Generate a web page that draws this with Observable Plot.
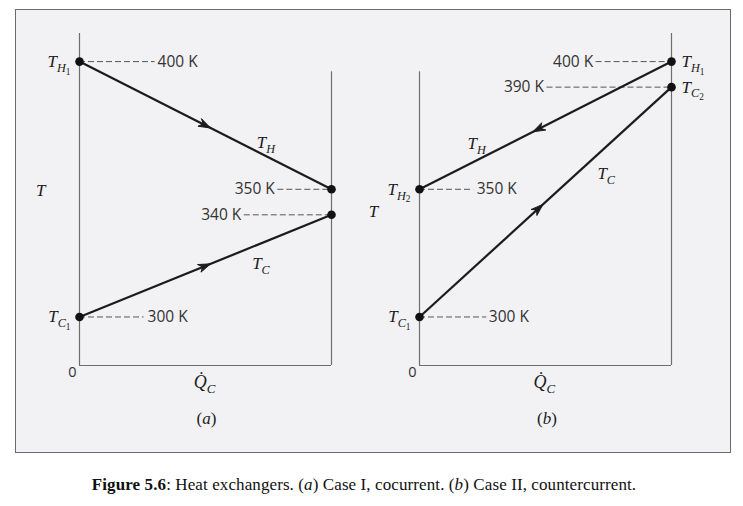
<!DOCTYPE html>
<html>
<head>
<meta charset="utf-8">
<script src="https://cdn.jsdelivr.net/npm/d3@7"></script>
<script src="https://cdn.jsdelivr.net/npm/@observablehq/plot@0.6"></script>
<style>
  body { margin: 0; background: #fff; }
  #wrap { position: relative; width: 743px; height: 506px; }
  #box { position: absolute; left: 15px; top: 9px; width: 716px; height: 444px; box-sizing: border-box; background: #f2f2f4; border: 1px solid #6a6a6a; }
  #chart { position: absolute; left: 0; top: 0; }
  #cap { position: absolute; left: 0; top: 475px; width: 728px; text-align: center; font: 17px "Liberation Serif", serif; color: #111; line-height: 19px; letter-spacing: 0.1px; }
</style>
</head>
<body>
<div id="wrap">
  <div id="box"></div>
  <div id="chart"></div>
  <div id="cap"><b>Figure 5.6</b>: Heat exchangers. (<i>a</i>) Case I, cocurrent. (<i>b</i>) Case II, countercurrent.</div>
</div>
<script>
// ---- data (temperatures in K, heat duty Q̇C as fraction 0..1) ----
const panels = ["a", "b"];

// state points
const pointPanel = ["a", "a", "a", "a", "b", "b", "b", "b"];
const pointQ     = [0, 1, 1, 0, 1, 1, 0, 0];
const pointT     = [400, 350, 340, 300, 400, 390, 350, 300];
const pointName  = ["T_H_1", "", "", "T_C_1", "T_H_1", "T_C_2", "T_H_2", "T_C_1"];
const pointSide  = ["left", "", "", "left", "right", "right", "left", "left"];

// streams (start -> end, flow direction)
const streamPanel = ["a", "a", "b", "b"];
const streamName  = ["T_H", "T_C", "T_H", "T_C"];
const streamQ1    = [0, 0, 1, 0];
const streamT1    = [400, 300, 400, 300];
const streamQ2    = [1, 1, 0, 1];
const streamT2    = [350, 340, 350, 390];
const arrowFrac   = [0.52, 0.52, 0.55, 0.49];   // arrowhead position along the stream
const streamLabelQ = [0.74, 0.72, 0.227, 0.741];
const streamLabelT = [368.3, 321, 367.9, 356.2];

// dashed leaders to temperature labels
const leaderPanel = ["a", "a", "a", "a", "b", "b", "b", "b"];
const leaderT     = [400, 350, 340, 300, 400, 390, 350, 300];
const leaderQ1    = [0, 0.787, 0.654, 0, 0.701, 0.506, 0, 0];
const leaderQ2    = [0.30, 1, 1, 0.256, 1, 1, 0.215, 0.267];
const leaderText  = ["400 K", "350 K", "340 K", "300 K", "400 K", "390 K", "350 K", "300 K"];
const leaderTextQ = [0.31, 0.775, 0.642, 0.27, 0.689, 0.494, 0.227, 0.275];
const leaderAnchor = ["start", "end", "end", "start", "end", "end", "start", "start"];

// axis frame (K)
const T_BOTTOM = 281, T_TOP = 411, T_SHORT = 396;
const frameLeftTop  = [T_TOP, T_SHORT];   // per panel
const frameRightTop = [T_SHORT, T_TOP];
const axisLabelQ = [-0.154, -0.183];
const axisLabelT = [349.5, 341.3];
const panelCaption = ["(a)", "(b)"];
const qLabelQ = [0.496, 0.495];
const capLabelQ = [0.504, 0.506];

// ---- build tables ----
const points = pointQ.map((q, i) => ({panel: pointPanel[i], q, t: pointT[i], name: pointName[i], side: pointSide[i]}));
const streams = streamQ1.map((q1, i) => ({
  panel: streamPanel[i], name: streamName[i], q1, t1: streamT1[i], q2: streamQ2[i], t2: streamT2[i],
  qa: q1 + (streamQ2[i] - q1) * arrowFrac[i], ta: streamT1[i] + (streamT2[i] - streamT1[i]) * arrowFrac[i],
  lq: streamLabelQ[i], lt: streamLabelT[i]
}));
const leaders = leaderT.map((t, i) => ({panel: leaderPanel[i], t, q1: leaderQ1[i], q2: leaderQ2[i], text: leaderText[i], tq: leaderTextQ[i], anchor: leaderAnchor[i]}));
const frames = panels.map((p, i) => ({panel: p, leftTop: frameLeftTop[i], rightTop: frameRightTop[i], lq: axisLabelQ[i], lt: axisLabelT[i], cap: panelCaption[i], qq: qLabelQ[i], cq: capLabelQ[i]}));

const serif = "Liberation Serif";
const sans = "Open Sans";
const ink = "#1c1c1c";

const chart = Plot.plot({
  width: 743, height: 460,
  marginTop: 33, marginBottom: 95, marginLeft: 79, marginRight: 71,
  style: {background: "transparent", overflow: "visible"},
  fx: {domain: panels, paddingInner: 0.2584, paddingOuter: 0, axis: null},
  x: {domain: [0, 1], axis: null},
  y: {domain: [T_BOTTOM, T_TOP], axis: null},
  marks: [
    // axis frame
    Plot.ruleX(frames, {fx: "panel", x: () => 0, y1: T_BOTTOM, y2: "leftTop", stroke: "#6e6e6e", strokeWidth: 1.2}),
    Plot.ruleX(frames, {fx: "panel", x: () => 1, y1: T_BOTTOM, y2: "rightTop", stroke: "#6e6e6e", strokeWidth: 1.2}),
    Plot.ruleY(frames, {fx: "panel", y: () => T_BOTTOM, x1: 0, x2: 1, stroke: "#6e6e6e", strokeWidth: 1.2}),
    // dashed leaders
    Plot.ruleY(leaders, {fx: "panel", y: "t", x1: "q1", x2: "q2", stroke: "#555", strokeWidth: 1, strokeDasharray: "6,3"}),
    // streams
    Plot.link(streams, {fx: "panel", x1: "q1", y1: "t1", x2: "q2", y2: "t2", stroke: ink, strokeWidth: 2.2}),
    Plot.arrow(streams, {fx: "panel", x1: "q1", y1: "t1", x2: "qa", y2: "ta", stroke: ink, strokeWidth: 1, headLength: 19, headAngle: 38}),
    Plot.dot(points, {fx: "panel", x: "q", y: "t", r: 4.3, fill: "#111", stroke: "none"}),
    // temperature labels
    Plot.text(leaders.filter(d => d.anchor === "start"), {fx: "panel", x: "tq", y: "t", text: "text", textAnchor: "start", fontFamily: sans, fontSize: 15.5, fill: "#333"}),
    Plot.text(leaders.filter(d => d.anchor === "end"), {fx: "panel", x: "tq", y: "t", text: "text", textAnchor: "end", fontFamily: sans, fontSize: 15.5, fill: "#333"}),
    // point names
    Plot.text(points.filter(d => d.side === "left"), {fx: "panel", x: "q", y: "t", text: "name", textAnchor: "end", dx: -9, fontFamily: serif, fontStyle: "italic", fontSize: 17, fill: ink}),
    Plot.text(points.filter(d => d.side === "right"), {fx: "panel", x: "q", y: "t", text: "name", textAnchor: "start", dx: 10, fontFamily: serif, fontStyle: "italic", fontSize: 17, fill: ink}),
    // stream names
    Plot.text(streams, {fx: "panel", x: "lq", y: "lt", text: "name", fontFamily: serif, fontStyle: "italic", fontSize: 17, fill: ink}),
    // axis titles
    Plot.text(frames, {fx: "panel", x: "lq", y: "lt", text: () => "T", fontFamily: serif, fontStyle: "italic", fontSize: 17, fill: ink}),
    Plot.text(frames, {fx: "panel", x: () => 0, frameAnchor: "bottom", dx: -7, dy: 11, text: () => "0", fontFamily: sans, fontSize: 14.5, fill: "#333"}),
    Plot.text(frames, {fx: "panel", x: "qq", frameAnchor: "bottom", dy: 22, text: () => "Q\u0307_C", fontFamily: serif, fontStyle: "italic", fontSize: 18, fill: ink}),
    Plot.text(frames, {fx: "panel", x: "cq", frameAnchor: "bottom", dy: 58, text: "cap", fontFamily: serif, fontSize: 17, fill: ink})
  ]
});

// subscripts and italic caption letters as tspans
d3.select(chart).selectAll("text").each(function () {
  if (this.querySelector("tspan")) return;
  const s = this.textContent;
  const el = d3.select(this);
  if (s.includes("_")) {
    const parts = s.split("_");
    el.text(null);
    el.append("tspan").text(parts[0]);
    if (parts[1]) el.append("tspan").attr("font-size", "0.72em").attr("dy", "0.4em").text(parts[1]);
    if (parts[2]) el.append("tspan").attr("font-size", "0.55em").attr("font-style", "normal").attr("dy", "0.3em").text(parts[2]);
  } else if (/^\(\w\)$/.test(s)) {
    el.text(null);
    el.append("tspan").text("(");
    el.append("tspan").attr("font-style", "italic").text(s[1]);
    el.append("tspan").text(")");
  }
});

// turn the open arrowheads into filled, notched heads
d3.select(chart).selectAll("g[aria-label='arrow'] path").each(function () {
  const n = (this.getAttribute("d").match(/-?\d*\.?\d+(?:e-?\d+)?/g) || []).map(Number);
  if (n.length < 10) return;
  const [, , tx, ty, ax, ay, , , bx, by] = n;
  const mx = tx + 0.72 * ((ax + bx) / 2 - tx), my = ty + 0.72 * ((ay + by) / 2 - ty);
  this.setAttribute("d", `M${ax},${ay}L${tx},${ty}L${bx},${by}L${mx},${my}Z`);
  this.setAttribute("fill", ink);
  this.setAttribute("stroke-linejoin", "miter");
});

document.getElementById("chart").append(chart);
</script>
</body>
</html>
